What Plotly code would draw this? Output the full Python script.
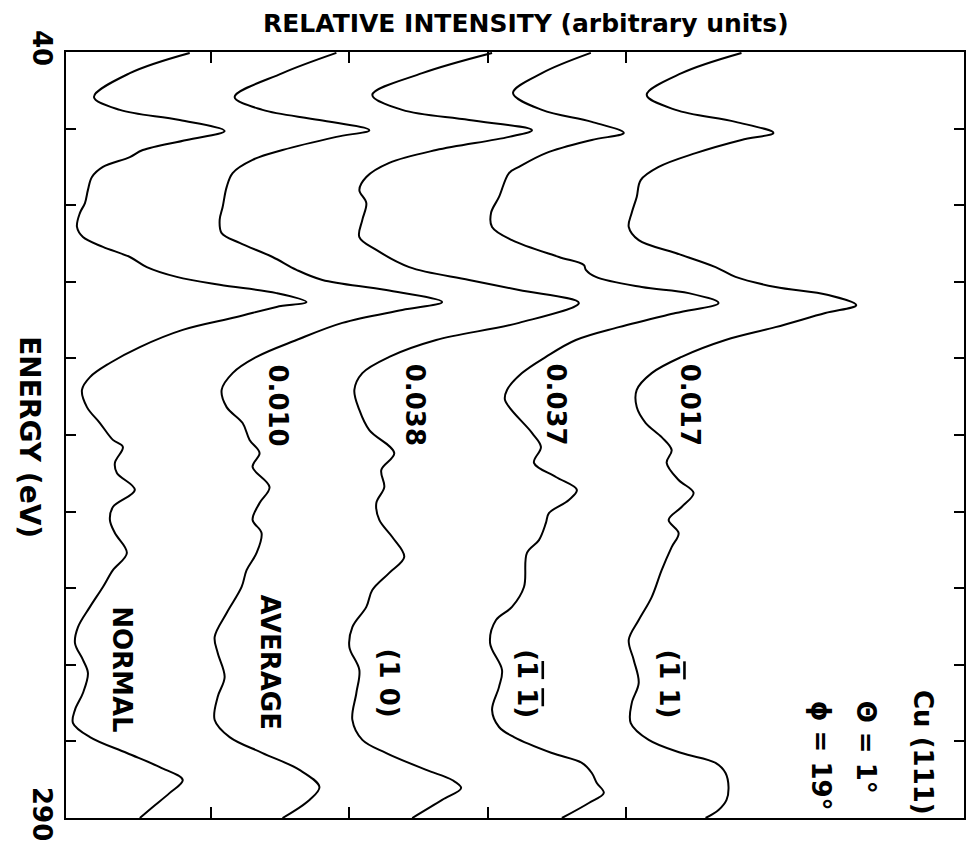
import plotly.graph_objects as go

# Energy (eV) and relative intensity (arbitrary units, curves stacked left to right)
e_normal = [40.3, 46.9, 54.7, 58.9, 62.2, 65.8, 68.7, 72.0, 74.3, 77.5, 80.8, 85.0, 89.3, 92.5,
            97.1, 100.4, 103.6, 106.9, 110.2, 113.4, 116.0, 118.7, 121.6, 123.2, 126.5, 130.7,
            136.3, 141.5, 146.1, 150.3, 155.9, 161.1, 166.6, 168.9, 174.1, 177.4, 182.9, 188.5,
            192.7, 197.0, 203.5, 209.1, 214.6, 221.1, 227.7, 232.9, 238.4, 242.7, 249.2, 254.7,
            259.0, 263.6, 268.8, 273.4, 277.6, 281.8, 286.4, 290.0]
i_normal = [12.4, 6.4, 2.8, 5.4, 11.4, 15.9, 12.1, 7.7, 6.4, 3.7, 2.6, 2.2, 1.9, 1.4,
            1.1, 1.7, 3.7, 6.4, 8.1, 11.1, 15.4, 21.1, 24.1, 21.1, 17.1, 11.7,
            7.4, 4.4, 2.4, 1.6, 2.1, 3.4, 4.7, 5.7, 4.9, 5.1, 6.9, 4.7,
            4.4, 4.9, 6.1, 4.7, 3.7, 2.4, 1.2, 0.9, 1.7, 2.2, 1.7, 0.9,
            0.7, 2.4, 6.1, 9.4, 11.7, 10.4, 8.7, 7.4]

e_average = [40.3, 46.9, 54.7, 58.9, 62.2, 65.5, 67.7, 72.0, 75.2, 79.5, 84.1, 90.6, 94.8, 99.1,
             102.3, 106.9, 111.1, 114.4, 117.7, 121.6, 124.2, 128.4, 134.0, 139.5, 144.8, 150.3,
             155.9, 161.1, 166.6, 170.9, 175.4, 182.0, 187.2, 192.7, 197.0, 203.5, 209.1, 214.6,
             223.1, 230.9, 236.1, 244.0, 250.5, 258.0, 263.6, 268.8, 274.3, 279.9, 284.1, 290.0]
i_average = [27.1, 21.7, 16.9, 19.7, 25.4, 30.4, 27.1, 21.7, 18.7, 16.7, 16.1, 15.7, 15.4, 15.6,
             17.4, 20.7, 23.1, 25.7, 32.1, 37.7, 33.7, 27.7, 23.1, 19.1, 16.7, 15.6,
             16.1, 17.7, 18.4, 19.4, 18.7, 20.4, 19.4, 18.7, 19.6, 19.1, 18.1, 17.6,
             16.1, 14.9, 15.2, 15.9, 15.2, 14.9, 16.4, 19.7, 23.4, 25.4, 24.4, 21.7]

e_10 = [40.3, 46.9, 54.0, 58.9, 62.2, 65.5, 67.7, 72.0, 76.2, 80.8, 85.0, 89.3, 94.8, 100.4,
        104.6, 110.2, 114.4, 117.7, 121.9, 128.4, 134.0, 139.5, 144.8, 150.3, 156.8, 163.4,
        170.9, 176.4, 182.0, 187.2, 192.7, 198.3, 204.8, 210.0, 215.6, 221.1, 227.7, 234.2,
        241.7, 249.2, 258.0, 264.5, 268.8, 274.3, 277.6, 280.2, 284.1, 290.0]
i_10 = [42.7, 35.7, 30.7, 33.7, 40.4, 46.7, 44.4, 37.1, 32.4, 30.1, 29.4, 30.1, 29.7, 29.4,
        31.1, 34.4, 40.4, 45.4, 51.4, 45.4, 37.1, 32.4, 29.7, 28.9, 29.4, 30.4,
        32.9, 31.6, 31.9, 31.1, 31.4, 32.7, 33.9, 32.4, 30.7, 30.1, 28.7, 28.4,
        29.4, 29.1, 28.7, 29.7, 32.1, 36.1, 38.7, 39.6, 37.7, 34.7]

e_1b1b = [40.3, 46.9, 53.4, 58.9, 62.8, 66.4, 68.7, 73.0, 77.5, 79.5, 87.3, 92.5, 97.1, 101.4,
          106.9, 109.5, 111.1, 113.4, 116.7, 118.7, 121.9, 125.2, 129.8, 134.0, 139.5, 144.8,
          150.3, 153.6, 164.3, 168.9, 174.1, 178.7, 182.9, 186.2, 190.5, 193.7, 199.3, 203.5,
          214.6, 221.1, 225.4, 232.9, 241.7, 247.2, 254.7, 260.3, 263.6, 268.8, 272.0, 275.3,
          278.6, 281.8, 285.1, 290.0]
i_1b1b = [52.6, 47.7, 44.8, 47.7, 52.7, 55.9, 52.7, 48.1, 45.4, 44.4, 43.4, 42.6, 42.7, 44.7,
          49.4, 51.9, 52.1, 53.1, 57.7, 62.4, 65.4, 61.1, 55.4, 51.1, 48.1, 45.7,
          44.2, 44.0, 46.7, 47.6, 46.9, 49.1, 51.2, 50.4, 48.4, 48.1, 47.4, 46.2,
          45.9, 44.7, 43.1, 42.5, 43.7, 43.4, 42.7, 43.4, 44.9, 48.7, 51.7, 52.7,
          53.2, 53.9, 52.4, 49.7]

e_1b1 = [40.3, 46.9, 54.0, 58.9, 62.8, 66.4, 68.7, 73.0, 77.5, 81.8, 87.3, 92.5, 97.1, 101.4,
         105.6, 110.2, 113.4, 116.7, 119.3, 122.6, 125.2, 129.8, 134.0, 139.5, 144.8, 150.3,
         155.9, 161.1, 165.7, 169.9, 174.1, 179.7, 183.9, 188.5, 192.7, 197.0, 201.6, 209.1,
         217.9, 225.4, 231.9, 238.4, 245.9, 252.5, 259.0, 264.5, 268.8, 272.0, 275.3, 279.9,
         284.1, 287.4, 290.0]
i_1b1 = [67.7, 61.7, 58.2, 61.1, 67.1, 70.9, 67.7, 63.1, 59.4, 57.6, 57.2, 56.7, 56.4, 57.4,
         61.1, 65.1, 67.1, 71.1, 76.4, 79.2, 76.1, 71.1, 66.1, 61.7, 58.7, 57.2,
         57.2, 58.1, 59.7, 60.7, 60.2, 61.4, 62.9, 61.7, 60.4, 61.4, 60.7, 59.7,
         58.7, 57.4, 56.4, 56.9, 57.4, 56.7, 56.6, 58.4, 61.7, 65.1, 66.1, 66.4,
         66.2, 65.4, 64.1]

curves = [(e_normal, i_normal), (e_average, i_average), (e_10, i_10),
          (e_1b1b, i_1b1b), (e_1b1, i_1b1)]

# R-factor values and curve names
BAR = "<span style='text-decoration:overline'>1</span>"
r_labels = ["0.010", "0.038", "0.037", "0.017"]
r_pos = [(21.2, 155.2), (35.0, 155.2), (49.1, 155.0), (62.5, 155.0)]
name_labels = ["NORMAL", "AVERAGE", "(1 0)", "(" + BAR + " " + BAR + ")", "(" + BAR + " 1)"]
name_pos = [(5.6, 241.4), (20.4, 239.1), (32.4, 245.9), (46.2, 246.3), (60.4, 246.3)]
info_labels = ["Cu (111)", "\u0398 = 1\u00b0", "\u03d5 = 19\u00b0"]
info_pos = [(85.9, 268.5), (80.2, 266.8), (75.7, 269.8)]

energy_ticks = list(range(40, 291, 25))
energy_ticktext = [str(v) if v in (40, 290) else "" for v in energy_ticks]
intensity_ticks = [14.5, 28.4, 42.3, 56.1]

FONT = "DejaVu Sans"

fig = go.Figure()
for e, i in curves:
    fig.add_trace(go.Scatter(x=i, y=e, mode="lines",
                             line=dict(color="black", width=2, shape="spline", smoothing=1.0),
                             showlegend=False, hoverinfo="skip"))

annotations = []
for txt, (x, y) in zip(r_labels + name_labels + info_labels, r_pos + name_pos + info_pos):
    annotations.append(dict(x=x, y=y, xref="x", yref="y", text=txt, showarrow=False,
                            textangle=90, xanchor="center", yanchor="middle",
                            font=dict(family=FONT, size=26, color="black", weight="bold")))
annotations.append(dict(x=-0.04, y=0.497, xref="paper", yref="paper", text="ENERGY (eV)",
                        showarrow=False, textangle=90, xanchor="center", yanchor="middle",
                        font=dict(family=FONT, size=28, color="black", weight="bold")))

fig.update_layout(
    width=972, height=848,
    margin=dict(l=66, r=6, t=52, b=30),
    paper_bgcolor="white", plot_bgcolor="white",
    title=dict(text="RELATIVE INTENSITY (arbitrary units)", x=0.512, y=0.972,
               xanchor="center", yanchor="middle", xref="paper",
               font=dict(family=FONT, size=25, color="black", weight="bold")),
    annotations=annotations,
)
fig.update_xaxes(range=[0, 90], tickvals=intensity_ticks, showticklabels=False,
                 ticks="inside", ticklen=11, tickwidth=1.5, tickcolor="black",
                 showline=True, linecolor="black", linewidth=2, mirror="allticks",
                 showgrid=False, zeroline=False)
fig.update_yaxes(range=[290, 40], tickvals=energy_ticks, ticktext=energy_ticktext,
                 tickangle=90, ticks="inside", ticklen=10, tickwidth=1.5, tickcolor="black",
                 ticklabelstandoff=0,
                 tickfont=dict(family=FONT, size=26, color="black", weight="bold"),
                 showline=True, linecolor="black", linewidth=2, mirror="allticks",
                 showgrid=False, zeroline=False)

fig.write_html("out.html")
